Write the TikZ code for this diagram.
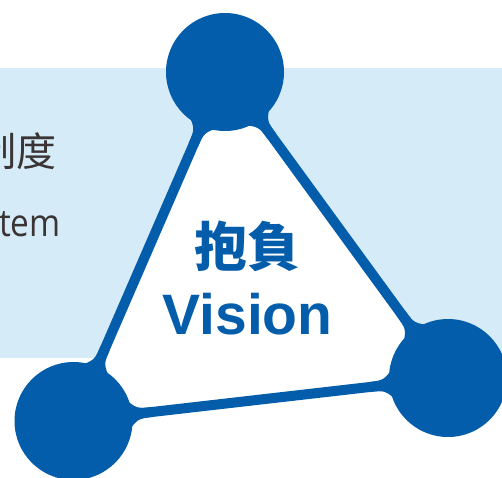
\documentclass[tikz,border=0pt]{standalone}
\usepackage{fontspec}
\setmainfont{Open Sans}
\newfontfamily\cjkfont{Noto Sans CJK TC}
\newfontfamily\visionfont{Liberation Sans}
\usetikzlibrary{calc}

\definecolor{visionblue}{HTML}{035DAB}
\definecolor{panelblue}{HTML}{D5EBF8}
\definecolor{textgray}{HTML}{3A3434}

\tikzset{
  dot/.style={circle, fill=visionblue, minimum size=118pt, inner sep=0pt},
  edge/.style={draw=visionblue, fill=white, line width=10pt, line join=round}
}

% flare where an edge leaves a circle
\newcommand{\flare}[2]{%
  \fill[visionblue] ($(#1)!52pt!(#2)!18pt!90:(#2)$) .. controls ($(#1)!64pt!(#2)!5pt!90:(#2)$) .. ($(#1)!80pt!(#2)!5pt!90:(#2)$)
    -- ($(#1)!80pt!(#2)!5pt!-90:(#2)$) .. controls ($(#1)!64pt!(#2)!5pt!-90:(#2)$) .. ($(#1)!52pt!(#2)!18pt!-90:(#2)$) -- cycle;}

\begin{document}
\begin{tikzpicture}[x=1pt, y=-1pt]
\useasboundingbox (0,0) rectangle (502,477);
\clip (0,0) rectangle (502,477);

% Panel
\fill[panelblue] (0,68) rectangle (502,358);
\node[anchor=base east, inner sep=0pt, text=textgray, font=\cjkfont\fontsize{40}{40}\selectfont] (zhidu) at (57,166) {制度};
\node[anchor=base east, inner sep=0pt, xscale=0.88, transform shape, text=textgray, font=\fontsize{38}{38}\selectfont] (tem) at (61,236) {tem};

% Corners
\coordinate (ptop) at (225,72);
\coordinate (pleft) at (73.5,421);
\coordinate (pright) at (448,378);

% Triangle
\filldraw[edge] (ptop) -- (pleft) -- (pright) -- cycle;
\flare{ptop}{pleft}
\flare{pleft}{ptop}
\flare{ptop}{pright}
\flare{pright}{ptop}
\flare{pleft}{pright}
\flare{pright}{pleft}

% Circles
\node[dot] (vtop) at (ptop) {};
\node[dot] (vleft) at (pleft) {};
\node[dot] (vright) at (pright) {};

% Title
\node[anchor=base, inner sep=0pt, text=visionblue, font=\cjkfont\bfseries\fontsize{53}{53}\selectfont] (baofu) at (247.5,266) {抱負};
\node[anchor=base, inner sep=0pt, text=visionblue, font=\visionfont\bfseries\fontsize{57}{57}\selectfont] (vision) at (247.5,334) {Vision};
\end{tikzpicture}
\end{document}
